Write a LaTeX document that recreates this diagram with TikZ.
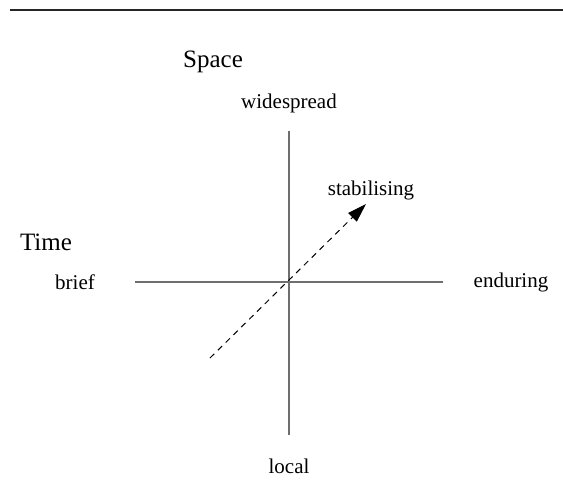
\documentclass[tikz,border=0pt]{standalone}
\usepackage{fontspec}
\setmainfont{Liberation Serif}
\usepackage{tikz}
\usetikzlibrary{arrows.meta}
\definecolor{GrisEje}{RGB}{110,110,110}
\tikzset{
  etiqueta/.style={font=\fontsize{21}{25}\selectfont},
  titulo/.style={font=\fontsize{25}{30}\selectfont},
  eje/.style={GrisEje,line width=1.4pt},
}

\begin{document}
\begin{tikzpicture}[x=1pt,y=-1pt,>={Triangle[length=19pt,width=12pt]}]
  \useasboundingbox (0,0) rectangle (563,488);
  \draw[line width=2.2pt,black!85] (10,10) -- (563,10);
  \coordinate (O) at (289,282);
  \coordinate (izq) at (135,282);
  \coordinate (der) at (443,282);
  \coordinate (arr) at (289,131);
  \coordinate (aba) at (289,435);
  \coordinate (ini) at (210,358);
  \coordinate (fin) at (366,204);
  \draw[eje] (izq) -- (der);
  \draw[eje] (arr) -- (aba);
  \draw[->,dashed,line width=1pt,dash pattern=on 6pt off 5pt] (ini) -- (fin);
  \node[titulo] (espacio) at (213,62) {Space};
  \node[titulo] (tiempo) at (46,242) {Time};
  \node[etiqueta] (amplio) at (289,103) {widespread};
  \node[etiqueta] (local) at (289,466) {local};
  \node[etiqueta] (breve) at (75,282) {brief};
  \node[etiqueta] (duradero) at (511,282) {enduring};
  \node[etiqueta] (estab) at (371,190) {stabilising};
\end{tikzpicture}
\end{document}
